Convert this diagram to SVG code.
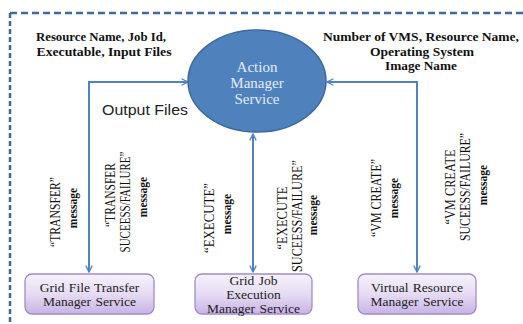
<svg xmlns="http://www.w3.org/2000/svg" width="523" height="324" viewBox="0 0 523 324">
  <style>
    .frame { fill: none; stroke: #3e6a9d; stroke-width: 2.5; }
    .conn { fill: none; stroke: #4f82c0; stroke-width: 2; }
    .hdr { font-family: "Liberation Serif", "Times New Roman", serif; font-weight: bold; font-size: 12px; fill: #111; text-anchor: middle; }
    .msg { font-family: "Liberation Serif", "Times New Roman", serif; font-size: 14.5px; fill: #111; text-anchor: middle; dominant-baseline: central; }
    .msgsm { font-family: "Liberation Serif", "Times New Roman", serif; font-weight: bold; font-size: 11.5px; fill: #111; text-anchor: middle; dominant-baseline: central; }
    .box { fill: url(#boxFill); stroke: #a18ccb; stroke-width: 1.3; }
    .boxtxt { font-family: "Liberation Serif", "Times New Roman", serif; font-size: 13.5px; fill: #222; text-anchor: middle; word-spacing: 1px; }
    .ellTxt { font-family: "Liberation Serif", "Times New Roman", serif; font-size: 15px; fill: #e4ecf6; text-anchor: middle; }
  </style>
  <defs>
    <linearGradient id="boxFill" x1="0" y1="0" x2="0" y2="1">
      <stop offset="0" stop-color="#f6f2fb"/>
      <stop offset="0.5" stop-color="#e6dcf3"/>
      <stop offset="1" stop-color="#c8b2e5"/>
    </linearGradient>
    <marker id="arrow" viewBox="0 0 10 10" refX="9" refY="5" markerWidth="8" markerHeight="8" markerUnits="userSpaceOnUse" orient="auto-start-reverse">
      <path d="M1,1 L9,5 L1,9" fill="none" stroke="#4f82c0" stroke-width="1.6"/>
    </marker>
  </defs>

  <rect width="523" height="324" fill="#ffffff"/>

  <!-- dashed outer frame (runs off the right and bottom edges) -->
  <path class="frame" d="M10,13 H530" stroke-dasharray="7 4"/>
  <path class="frame" d="M10,13 V330" stroke-dasharray="5 3"/>

  <!-- parameter notes -->
  <text class="hdr" x="101" y="41" textLength="130" lengthAdjust="spacingAndGlyphs">Resource Name, Job Id,</text>
  <text class="hdr" x="104" y="56" textLength="135" lengthAdjust="spacingAndGlyphs">Executable, Input Files</text>
  <text class="hdr" x="421" y="41" textLength="196" lengthAdjust="spacingAndGlyphs">Number of VMS, Resource Name,</text>
  <text class="hdr" x="422" y="56" textLength="104" lengthAdjust="spacingAndGlyphs">Operating System</text>
  <text class="hdr" x="421" y="70" textLength="72" lengthAdjust="spacingAndGlyphs">Image Name</text>
  <text x="102" y="115" font-family="'Liberation Sans', Arial, sans-serif" font-size="15" fill="#222" textLength="86" lengthAdjust="spacingAndGlyphs">Output Files</text>

  <!-- connectors -->
  <g id="connectors">
    <path class="conn" d="M188,82 H89 V272" marker-start="url(#arrow)" marker-end="url(#arrow)"/>
    <path class="conn" d="M253,134 V272" marker-start="url(#arrow)" marker-end="url(#arrow)"/>
    <path class="conn" d="M327,82 H417 V272" marker-start="url(#arrow)" marker-end="url(#arrow)"/>
  </g>

  <!-- message labels -->
  <g id="labels">
    <text class="msg" transform="translate(55,212) rotate(-90)" textLength="70" lengthAdjust="spacingAndGlyphs">“TRANSFER”</text>
    <text class="msgsm" transform="translate(73,208) rotate(-90)">message</text>

    <text class="msg" transform="translate(110,195) rotate(-90)" textLength="64" lengthAdjust="spacingAndGlyphs">“TRANSFER</text>
    <text class="msg" transform="translate(125,202) rotate(-90)" textLength="101" lengthAdjust="spacingAndGlyphs">SUCEESS/FAILURE”</text>
    <text class="msgsm" transform="translate(143,197) rotate(-90)">message</text>

    <text class="msg" transform="translate(209,218) rotate(-90)" textLength="70" lengthAdjust="spacingAndGlyphs">“EXECUTE”</text>
    <text class="msgsm" transform="translate(227,214) rotate(-90)">message</text>

    <text class="msg" transform="translate(282,218) rotate(-90)" textLength="63" lengthAdjust="spacingAndGlyphs">“EXECUTE</text>
    <text class="msg" transform="translate(297,216) rotate(-90)" textLength="112" lengthAdjust="spacingAndGlyphs">SUCEESS/FAILURE”</text>
    <text class="msgsm" transform="translate(313,215) rotate(-90)">message</text>

    <text class="msg" transform="translate(376,198) rotate(-90)" textLength="78" lengthAdjust="spacingAndGlyphs">“VM CREATE”</text>
    <text class="msgsm" transform="translate(394,198) rotate(-90)">message</text>

    <text class="msg" transform="translate(450,187) rotate(-90)" textLength="75" lengthAdjust="spacingAndGlyphs">“VM CREATE</text>
    <text class="msg" transform="translate(465,187) rotate(-90)" textLength="108" lengthAdjust="spacingAndGlyphs">SUCEESS/FAILURE”</text>
    <text class="msgsm" transform="translate(483,185) rotate(-90)">message</text>
  </g>

  <!-- central service -->
  <g id="action-manager">
    <ellipse cx="257" cy="81" rx="69" ry="51" fill="#4f81bd" stroke="#3b6aa0" stroke-width="1.5"/>
    <text class="ellTxt" x="257" y="72">Action</text>
    <text class="ellTxt" x="257" y="88">Manager</text>
    <text class="ellTxt" x="257" y="104">Service</text>
  </g>

  <!-- worker services -->
  <g id="grid-file-transfer">
    <rect class="box" x="25" y="274" width="129" height="40" rx="7"/>
    <text class="boxtxt" x="89.5" y="292">Grid File Transfer</text>
    <text class="boxtxt" x="89.5" y="306">Manager Service</text>
  </g>
  <g id="grid-job-execution">
    <rect class="box" x="195" y="274" width="117" height="40" rx="7"/>
    <text class="boxtxt" x="253.5" y="285">Grid Job</text>
    <text class="boxtxt" x="253.5" y="299">Execution</text>
    <text class="boxtxt" x="253.5" y="313">Manager Service</text>
  </g>
  <g id="virtual-resource">
    <rect class="box" x="358" y="274" width="118" height="40" rx="7"/>
    <text class="boxtxt" x="417" y="292">Virtual Resource</text>
    <text class="boxtxt" x="417" y="306">Manager Service</text>
  </g>
</svg>
